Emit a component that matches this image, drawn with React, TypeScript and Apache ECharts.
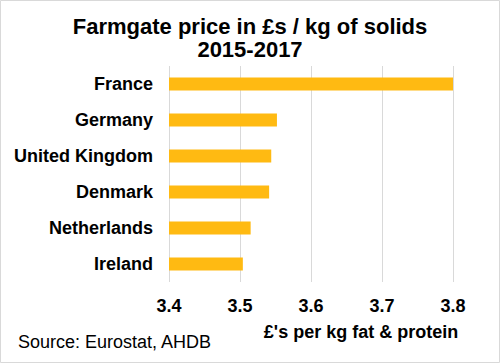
import React, { useEffect, useRef } from "react";
import * as echarts from "echarts";

const categories = ["France", "Germany", "United Kingdom", "Denmark", "Netherlands", "Ireland"];
const values = [3.8, 3.552, 3.544, 3.541, 3.515, 3.504];
const titleLines = ["Farmgate price in £s / kg of solids", "2015-2017"];
const axisName = "£'s per kg fat & protein";
const sourceText = "Source: Eurostat, AHDB";

const FONT = "Arial, 'Liberation Sans', sans-serif";

export default function App() {
  const ref = useRef<HTMLDivElement>(null);
  useEffect(() => {
    document.body.style.margin = "0";
    if (!ref.current) return;
    const chart = echarts.init(ref.current, null, { renderer: "svg" });
    chart.setOption({
      animation: false,
      backgroundColor: "#ffffff",
      title: {
        text: titleLines.join("\n"),
        left: "center",
        top: 15,
        padding: 0,
        textStyle: {
          fontFamily: FONT,
          fontSize: 22,
          fontWeight: "bold",
          color: "#000000",
          lineHeight: 23,
        },
      },
      grid: { left: 169, right: 47, top: 66, bottom: 81 },
      xAxis: {
        type: "value",
        min: 3.4,
        max: 3.8,
        interval: 0.1,
        axisLine: { show: false },
        axisTick: { show: false },
        splitLine: { show: true, lineStyle: { color: "#d9d9d9", width: 1 } },
        axisLabel: {
          margin: 15,
          fontFamily: FONT,
          fontSize: 18,
          fontWeight: "bold",
          color: "#000000",
          formatter: (v: number) => v.toFixed(1),
        },
      },
      yAxis: {
        type: "category",
        data: categories,
        inverse: true,
        axisLine: { show: false },
        axisTick: { show: false },
        axisLabel: {
          margin: 16,
          fontFamily: FONT,
          fontSize: 18,
          fontWeight: "bold",
          color: "#000000",
        },
      },
      series: [
        {
          type: "bar",
          data: values,
          barWidth: 13,
          itemStyle: { color: "#FFBA12" },
        },
      ],
      graphic: [
        {
          type: "rect",
          shape: { x: 0.5, y: 0.5, width: 499, height: 362 },
          style: { fill: "none", stroke: "#d9d9d9", lineWidth: 1 },
          silent: true,
        },
        {
          type: "text",
          x: 361,
          y: 332,
          style: {
            text: axisName,
            fontFamily: FONT,
            fontSize: 18,
            fontWeight: "bold",
            fill: "#000000",
            align: "center",
            verticalAlign: "middle",
          },
        },
        {
          type: "text",
          x: 18,
          y: 342,
          style: {
            text: sourceText,
            fontFamily: FONT,
            fontSize: 18,
            fill: "#000000",
            align: "left",
            verticalAlign: "middle",
          },
        },
      ],
    });
    return () => chart.dispose();
  }, []);
  return <div ref={ref} style={{ width: 500, height: 363 }} />;
}
